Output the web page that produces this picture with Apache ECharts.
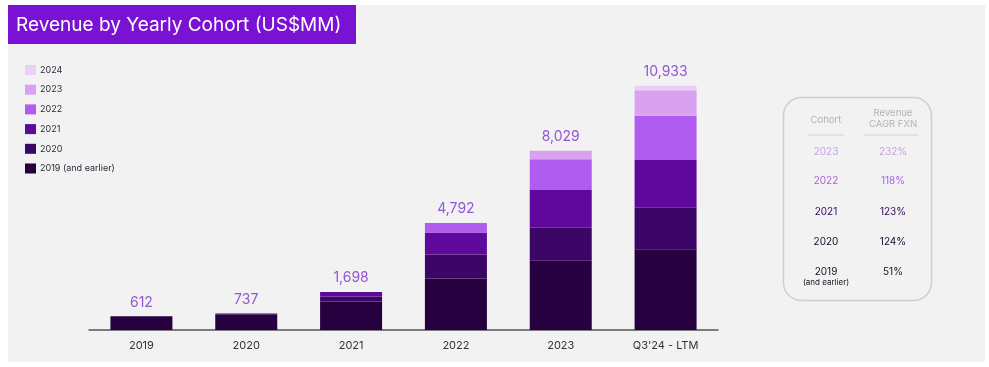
<!DOCTYPE html>
<html>
<head>
<meta charset="utf-8">
<script src="https://cdn.jsdelivr.net/npm/echarts@6/dist/echarts.min.js"></script>
<style>
html,body{margin:0;padding:0;background:#fff;}
#chart{width:989px;height:367px;}
</style>
</head>
<body>
<div id="chart"></div>
<script>
// ---- Data ----
const categories = ['2019', '2020', '2021', '2022', '2023', "Q3'24 - LTM"];
const cohort2019 = [612, 680, 1280, 2303, 3106, 3611];
const cohort2020 = [null, 57, 220, 1074, 1477, 1862];
const cohort2021 = [null, null, 198, 985, 1687, 2134];
const cohort2022 = [null, null, null, 430, 1374, 1983];
const cohort2023 = [null, null, null, null, 385, 1150];
const cohort2024 = [null, null, null, null, null, 193];
const totals = [612, 737, 1698, 4792, 8029, 10933];

const tableCohorts = ['2023', '2022', '2021', '2020', '2019'];
const tableCagr = ['232%', '118%', '123%', '124%', '51%'];

// ---- Styles ----
const FONT = 'Inter, "Noto Sans", sans-serif';
const colors = {
  '2019 (and earlier)': '#270040',
  '2020': '#3b0666',
  '2021': '#5e089c',
  '2022': '#b05cf0',
  '2023': '#d8a2f0',
  '2024': '#ead0f7'
};
const rowColors = ['#c9a2e8', '#a864d8', '#34085a', '#1c0a30', '#151020'];

function barSeries(name, data) {
  return {
    name: name,
    type: 'bar',
    stack: 'rev',
    barWidth: 62,
    data: data,
    itemStyle: { color: colors[name] },
    emphasis: { disabled: true }
  };
}

const chart = echarts.init(document.getElementById('chart'), null, { renderer: 'canvas' });

const tableGraphics = [];
const colX1 = 826, colX2 = 893;
const rowY = [152, 181, 212, 242, 272];
tableCohorts.forEach((c, i) => {
  tableGraphics.push({
    type: 'text', x: colX1, y: rowY[i], z: 10,
    style: { text: c, fill: rowColors[i], font: '10px ' + FONT, textAlign: 'center', textVerticalAlign: 'middle' }
  });
  tableGraphics.push({
    type: 'text', x: colX2, y: rowY[i], z: 10,
    style: { text: tableCagr[i], fill: rowColors[i], font: '10px ' + FONT, textAlign: 'center', textVerticalAlign: 'middle' }
  });
});
tableGraphics.push({
  type: 'text', x: colX1, y: 283, z: 10,
  style: { text: '(and earlier)', fill: rowColors[4], font: '8px ' + FONT, textAlign: 'center', textVerticalAlign: 'middle' }
});

const option = {
  backgroundColor: '#ffffff',
  animation: false,
  graphic: [
    { type: 'rect', z: -100, shape: { x: 8, y: 5, width: 977, height: 357 }, style: { fill: '#f2f2f2' } },
    { type: 'rect', z: 5, shape: { x: 8, y: 5, width: 348, height: 39 }, style: { fill: '#7a12d4' } },
    { type: 'text', z: 6, x: 16, y: 25, style: { text: 'Revenue by Yearly Cohort (US$MM)', fill: '#ffffff', font: '19px ' + FONT, textVerticalAlign: 'middle' } },
    { type: 'rect', z: 5, shape: { x: 783.5, y: 97.5, width: 148, height: 203, r: 18 }, style: { fill: 'none', stroke: '#cfcfcf', lineWidth: 1.5 } },
    { type: 'text', z: 10, x: colX1, y: 120, style: { text: 'Cohort', fill: '#b3b3b3', font: '9.5px ' + FONT, textAlign: 'center', textVerticalAlign: 'middle' } },
    { type: 'text', z: 10, x: colX2, y: 113, style: { text: 'Revenue', fill: '#b3b3b3', font: '9.5px ' + FONT, textAlign: 'center', textVerticalAlign: 'middle' } },
    { type: 'text', z: 10, x: colX2, y: 124, style: { text: 'CAGR FXN', fill: '#b3b3b3', font: '9.5px ' + FONT, textAlign: 'center', textVerticalAlign: 'middle' } },
    { type: 'line', z: 10, shape: { x1: 808, y1: 135, x2: 844, y2: 135 }, style: { stroke: '#d0d0d0', lineWidth: 1 } },
    { type: 'line', z: 10, shape: { x1: 864, y1: 135, x2: 918, y2: 135 }, style: { stroke: '#d0d0d0', lineWidth: 1 } }
  ].concat(tableGraphics),
  legend: {
    orient: 'vertical',
    left: 25,
    top: 65,
    padding: 0,
    itemWidth: 11,
    itemHeight: 10,
    itemGap: 9.7,
    icon: 'rect',
    selectedMode: false,
    data: ['2024', '2023', '2022', '2021', '2020', '2019 (and earlier)'],
    textStyle: { fontFamily: FONT, fontSize: 9, color: '#2a2a3a', padding: [0, 0, 0, -1] }
  },
  grid: { left: 89, right: 271, top: 62, bottom: 37 },
  xAxis: {
    type: 'category',
    data: categories,
    axisLine: { lineStyle: { color: '#555555', width: 1.5 } },
    axisTick: { show: false },
    axisLabel: { color: '#333333', fontFamily: FONT, fontSize: 11, margin: 10 }
  },
  yAxis: {
    type: 'value',
    min: 0,
    max: 12000,
    show: false,
    splitLine: { show: false }
  },
  series: [
    barSeries('2019 (and earlier)', cohort2019),
    barSeries('2020', cohort2020),
    barSeries('2021', cohort2021),
    barSeries('2022', cohort2022),
    barSeries('2023', cohort2023),
    barSeries('2024', cohort2024),
    {
      name: 'Total',
      type: 'scatter',
      data: totals,
      symbolSize: 0,
      silent: true,
      label: {
        show: true,
        position: 'top',
        distance: 7,
        color: '#7b2fcb',
        fontFamily: FONT,
        fontSize: 14,
        formatter: p => p.value.toLocaleString('en-US')
      }
    }
  ]
};
chart.setOption(option);
</script>
</body>
</html>
